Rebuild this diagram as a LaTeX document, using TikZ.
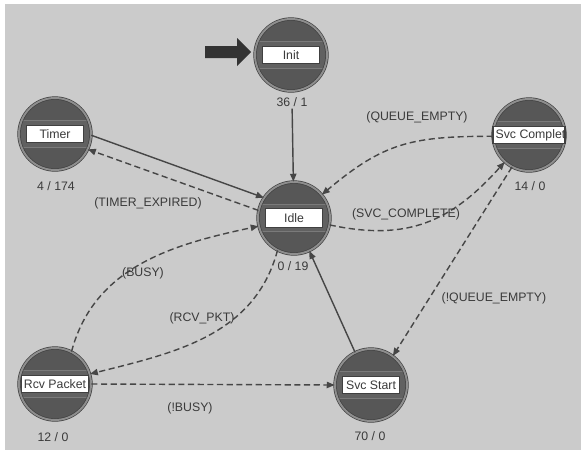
\documentclass[tikz,border=0pt]{standalone}
\usepackage{fontspec}
\setmainfont{Liberation Sans}
\usetikzlibrary{arrows.meta}
\definecolor{bg}{HTML}{CBCBCB}
\definecolor{stfill}{HTML}{575757}
\definecolor{stband}{HTML}{616161}
\definecolor{stline}{HTML}{7A7A7A}
\definecolor{string}{HTML}{8E8E8E}
\definecolor{edgec}{HTML}{464646}
\definecolor{txt}{HTML}{3A3A3A}
\begin{document}
\begin{tikzpicture}[x=0.02cm,y=-0.02cm,font=\fontsize{7}{8}\selectfont,
  state/.style={circle,minimum size=1.44cm,inner sep=0pt,fill=stfill,draw=black!75,
    double=string,double distance=1.1pt,
    path picture={\fill[stband] ([yshift=-0.27cm]path picture bounding box.west) rectangle ([yshift=0.27cm]path picture bounding box.east);
      \draw[stline,line width=0.5pt] ([yshift=-0.27cm]path picture bounding box.west) -- ([yshift=-0.27cm]path picture bounding box.east);
      \draw[stline,line width=0.5pt] ([yshift=0.27cm]path picture bounding box.west) -- ([yshift=0.27cm]path picture bounding box.east);}},
  lbl/.style={rectangle,fill=white,draw=black!75,line width=0.6pt,minimum width=1.14cm,minimum height=0.34cm,inner sep=1.5pt,text=txt},
  cnt/.style={text=txt,inner sep=1pt},
  tr/.style={text=txt,inner sep=1pt},
  edge/.style={draw=edgec,line width=0.8pt,-{Triangle[length=4.5pt,width=3.6pt]}},
  dsh/.style={edge,dash pattern=on 3.5pt off 2pt}]
\useasboundingbox (0,0) rectangle (581,453);
\fill[white] (0,0) rectangle (581,453);
\fill[bg] (5,4) rectangle (581,450);

% start arrow
\fill[black!80] (205,46) -- (237,46) -- (237,38) -- (251,52) -- (237,66) -- (237,58) -- (205,58) -- cycle;

% states
\node[state] (init) at (291,55) {};
\node[state] (timer) at (55,134) {};
\node[state] (idle) at (294,218) {};
\node[state] (svcc) at (529,135) {};
\node[state] (rcv) at (55,384) {};
\node[state] (svcs) at (371,385) {};

% name boxes
\node[lbl] (initl) at (init) {Init};
\node[lbl] (timerl) at (timer) {Timer};
\node[lbl,minimum height=0.38cm] (idlel) at (idle) {Idle};
\node[lbl] (rcvl) at (rcv) {Rcv Packet};
\node[lbl] (svcsl) at (svcs) {Svc Start};
\node[lbl,minimum width=1.44cm] (svccl) at (svcc) {};
\begin{scope}
  \clip (svccl.south west) rectangle (svccl.north east);
  \node[tr,anchor=west] (svcct) at ([xshift=0.02cm]svccl.west) {Svc Complete};
\end{scope}

% counts
\node[cnt] (initc) at (292,102) {36 / 1};
\node[cnt] (timerc) at (56,186) {4 / 174};
\node[cnt] (idlec) at (293,266) {0 / 19};
\node[cnt] (svccc) at (530,186) {14 / 0};
\node[cnt] (rcvc) at (53,437) {12 / 0};
\node[cnt] (svcsc) at (370,436) {70 / 0};

% connectors
\draw[edge] (initc) -- (idle);
\draw[edge] (timer.-2) -- (idle.146);
\draw[dsh] (idle.168) -- (timer.-25);
\draw[dsh] (svcc.182) to[out=180,in=40,looseness=1.15] (idle.40);
\draw[dsh] (idle.-11) to[out=-12,in=228,looseness=1.1] (svcc.228);
\draw[dsh] (svcc.242) -- (svcs.53);
\draw[edge] (svcs.116) -- (idle.-65);
\draw[dsh] (rcv.63) to[out=75,in=192,looseness=1.0] (idle.193);
\draw[dsh] (idle.243) to[out=255,in=14,looseness=1.0] (rcv.16);
\draw[dsh] (rcv.east) -- (svcs.west);

% transition labels
\node[tr] (ltimer) at (148,203) {(TIMER\_EXPIRED)};
\node[tr] (lqe) at (417,117) {(QUEUE\_EMPTY)};
\node[tr] (lsvc) at (406,214) {(SVC\_COMPLETE)};
\node[tr] (lnqe) at (494,298) {(!QUEUE\_EMPTY)};
\node[tr] (lbusy) at (143,273) {(BUSY)};
\node[tr] (lrcv) at (202,318) {(RCV\_PKT)};
\node[tr] (lnbusy) at (190,408) {(!BUSY)};
\end{tikzpicture}
\end{document}
